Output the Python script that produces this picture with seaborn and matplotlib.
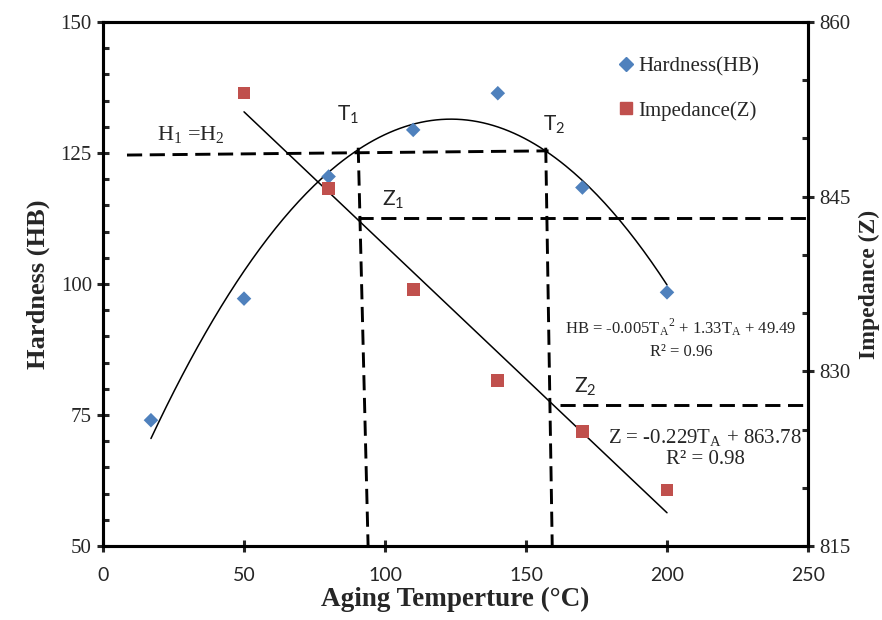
import numpy as np
import pandas as pd
import matplotlib
matplotlib.use("Agg")
import matplotlib.pyplot as plt
import seaborn as sns
from matplotlib.ticker import MultipleLocator

# данные
temp_hb = [17, 50, 80, 110, 140, 170, 200]
hardness = [74.0, 97.2, 120.5, 129.4, 136.4, 118.4, 98.4]
temp_z = [50, 80, 110, 140, 170, 200]
impedance = [853.9, 845.7, 837.0, 829.2, 824.8, 819.8]

sns.set_style("white")
plt.rcParams["font.family"] = ["Liberation Serif", "DejaVu Serif"]

fig = plt.figure(figsize=(8.82, 6.2), dpi=100)
ax = fig.add_axes([0.1168, 0.1194, 0.7993, 0.8452])
ax2 = ax.twinx()

df_hb = pd.DataFrame({"T": temp_hb, "HB": hardness})
df_z = pd.DataFrame({"T": temp_z, "Z": impedance})

sns.scatterplot(data=df_hb, x="T", y="HB", ax=ax, marker="D", s=55,
                color="#4f81bd", edgecolor="none", zorder=5)
sns.scatterplot(data=df_z, x="T", y="Z", ax=ax2, marker="s", s=85,
                color="#c0504d", edgecolor="none", zorder=5)

# линии тренда
c2 = np.polyfit(temp_hb, hardness, 2)
xx = np.linspace(min(temp_hb), max(temp_hb), 200)
ax.plot(xx, np.polyval(c2, xx), color="black", lw=1.1)
c1 = np.polyfit(temp_z, impedance, 1)
xz = np.linspace(min(temp_z), max(temp_z), 50)
ax2.plot(xz, np.polyval(c1, xz), color="black", lw=1.1)

# пунктирные линии
dash = dict(color="black", lw=2.1, ls=(0, (5.2, 2.6)))
ax.plot([8.5, 158], [124.6, 125.4], **dash)
ax.plot([90.5, 94], [126, 50], **dash, clip_on=False)
ax.plot([157, 159.3], [126, 50], **dash, clip_on=False)
ax2.plot([90.5, 250], [843.2, 843.2], **dash)
ax2.plot([162, 250], [827.1, 827.1], **dash)

ax.set_xlim(0, 250)
ax.set_ylim(50, 150)
ax2.set_ylim(815, 860)
ax.xaxis.set_major_locator(MultipleLocator(50))
ax.xaxis.set_minor_locator(MultipleLocator(10))
ax.yaxis.set_major_locator(MultipleLocator(25))
ax.yaxis.set_minor_locator(MultipleLocator(5))
ax2.set_yticks([815, 830, 845, 860])
ax2.set_yticks(np.arange(815, 861, 5), minor=True)

for a in (ax, ax2):
    for s in a.spines.values():
        s.set_linewidth(2.2)
        s.set_color("black")
ax.tick_params(axis="both", which="major", direction="inout", length=9, width=2.2, labelsize=15)
ax.tick_params(axis="both", which="minor", direction="in", length=4, width=2.2)
ax.tick_params(axis="y", left=True, labelleft=True)
ax.tick_params(axis="x", bottom=True, pad=11)
ax2.tick_params(axis="y", which="major", direction="inout", length=9, width=2.2, labelsize=15, right=True)
ax2.tick_params(axis="y", which="minor", direction="in", length=4, width=2.2, right=True)
for lab in ax.get_xticklabels():
    lab.set_fontfamily("Lato")
    lab.set_fontsize(14)

ax.set_xlabel("Aging Temperture (°C)", fontsize=19.5, fontweight="bold", labelpad=2)
ax.set_ylabel("Hardness (HB)", fontsize=19, fontweight="bold", labelpad=8)
ax2.set_ylabel("Impedance (Z)", fontsize=17, fontweight="bold", labelpad=6)

# подписи
sans = ["Lato", "DejaVu Sans"]
ax.text(19, 127.5, r"$\mathregular{H_1}$ =$\mathregular{H_2}$", fontsize=16)
ax.text(83, 131.2, r"$\mathregular{T_1}$", fontsize=15, family=sans)
ax.text(156, 129.3, r"$\mathregular{T_2}$", fontsize=15, family=sans)
ax2.text(99, 844.2, r"$\mathregular{Z_1}$", fontsize=15, family=sans)
ax2.text(167, 828.2, r"$\mathregular{Z_2}$", fontsize=15, family=sans)
ax.text(205, 90.5, r"HB = -0.005$\mathregular{T_A}^\mathregular{2}$ + 1.33$\mathregular{T_A}$ + 49.49",
        fontsize=12, ha="center")
ax.text(205, 86.3, "R² = 0.96", fontsize=12, ha="center")
ax2.text(213.5, 823.8, r"Z = -0.229$\mathregular{T_A}$ + 863.78", fontsize=15, ha="center")
ax2.text(213.5, 822.0, "R² = 0.98", fontsize=15, ha="center")

# легенда
h1 = plt.Line2D([], [], marker="D", ls="none", color="#4f81bd", markersize=7)
h2 = plt.Line2D([], [], marker="s", ls="none", color="#c0504d", markersize=9)
ax.legend([h1, h2], ["Hardness(HB)", "Impedance(Z)"], loc="upper left",
          bbox_to_anchor=(0.7, 0.97), frameon=False, fontsize=15,
          handletextpad=0.1, labelspacing=1.2, handlelength=1.0)

fig.savefig("out.png", dpi=100)
